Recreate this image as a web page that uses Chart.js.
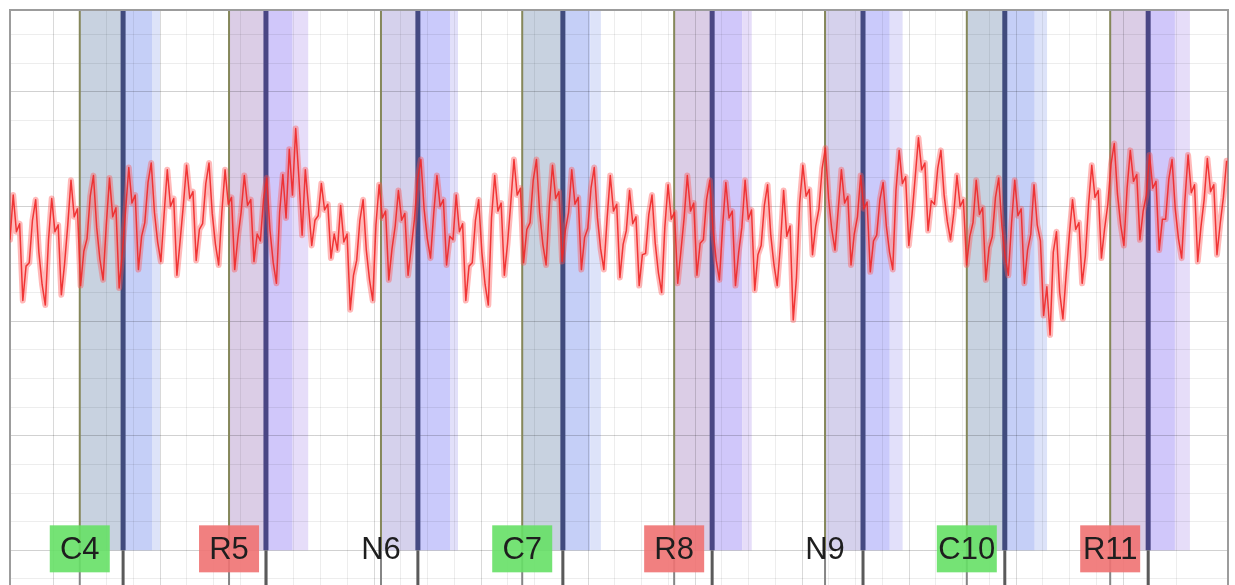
<!DOCTYPE html>
<html>
<head>
<meta charset="utf-8">
<script src="https://cdn.jsdelivr.net/npm/chart.js@4.4.1/dist/chart.umd.min.js"></script>
<style>
html, body { margin:0; padding:0; background:#fff; overflow:hidden; }
#wrap { position:relative; width:1235px; height:642px; }
</style>
</head>
<body>
<div id="wrap"><canvas id="trace"></canvas></div>
<script>
// sample timing (s)
const t0 = 0.1196;
const dt = 0.006;

// trace, one value per sample (uV)
const signal = [
  71,110,78,85,18,48, 51,88,106,60,32,14, 71,107,78,84,23,50, 84,123,91,98,31,61,
  72,109,127,82,54,36, 84,125,91,99,29,60, 96,134,103,110,45,74, 86,121,138,95,69,52,
  93,132,100,107,40,70, 101,136,107,113,53,80, 85,120,138,94,67,49, 95,132,102,108,45,73,
  95,127,101,106,52,76, 70,107,125,79,51,33, 95,128,90,150,110,168, 125,75,132,100,66,88,
  92,120,97,102,55,76, 62,101,69,76,10,40, 53,88,106,62,36,18, 84,119,90,96,36,63,
  83,114,88,94,40,64, 89,124,141,98,72,55, 94,127,100,106,49,74, 71,110,78,85,18,48,
  51,88,106,60,32,14, 90,127,96,103,40,68, 103,141,110,116,51,80, 86,123,141,95,67,49,
  100,136,107,113,52,79, 95,132,102,108,45,73, 81,116,134,90,63,45, 89,127,96,102,38,67,
  79,114,85,91,31,58, 59,93,110,68,42,25, 82,119,89,95,33,61, 90,127,96,103,40,68,
  71,106,123,80,53,36, 83,121,90,96,31,60, 82,123,89,97,27,58, 66,101,119,75,49,31,
  66,114,74,83,1,38, 103,136,109,115,58,83, 98,133,151,107,80,62, 97,132,103,109,49,76,
  91,127,98,104,43,70, 75,106,121,83,60,45, 114,149,120,126,66,93, 126,160,132,138,79,105,
  102,133,149,110,87,71, 94,127,100,106,49,74, 86,123,93,99,36,64, 74,108,125,83,57,40,
  85,123,92,98,33,62, 76,119,84,70,5,30, -12,60,78,25,2,40, 75,106,80,86,33,57,
  102,136,108,114,55,81, 102,137,155,111,84,66, 116,149,122,128,71,96, 110,145,116,122,62,89,
  89,124,141,98,72,55, 105,145,112,119,52,82, 106,142,113,119,58,85, 108,140
];

// trials
const trialLabels = ['C4', 'R5', 'N6', 'C7', 'R8', 'N9', 'C10', 'R11'];
const trialTypes  = ['C', 'R', 'N', 'C', 'R', 'N', 'C', 'R'];
const onsets      = [0.250, 0.529, 0.813, 1.077, 1.361, 1.643, 1.908, 2.176];
const responses   = [0.331, 0.598, 0.882, 1.153, 1.432, 1.714, 1.979, 2.247];
const tailStarts  = [0.385, 0.648, 0.942, 1.204, 1.488, 1.764, 2.035, 2.297];
const windowEnds  = [0.400, 0.677, 0.957, 1.224, 1.506, 1.788, 2.058, 2.325];
const bandFloor = -200;

// axes
const xMin = 0.1196, xMax = 2.3962, xStep = 0.05, xMajor = 0.2;
const yMin = -280, yMax = 271.5, yStep = 25, yMajor = 100;

const palette = {
  C: { a: '#c8d2e0', b: '#c5cff7', c: '#dde3f9', line: '#414b7d', box: '#66e066' },
  R: { a: '#dbcde6', b: '#d0c7fa', c: '#e6ddf9', line: '#4a4684', box: '#f07272' },
  N: { a: '#d5d1ec', b: '#cacafb', c: '#e2e0fa', line: '#454a82', box: null }
};

function isMultiple(v, m) {
  return Math.abs(Math.round(v / m) * m - v) < 1e-6;
}

const trialBands = {
  id: 'trialBands',
  beforeDraw(chart) {
    const { ctx, chartArea: area, scales: { x, y } } = chart;
    ctx.save();
    ctx.fillStyle = '#fff';
    ctx.fillRect(0, 0, chart.width, chart.height);
    const floor = y.getPixelForValue(bandFloor);
    onsets.forEach((t, i) => {
      const p = palette[trialTypes[i]];
      const x0 = x.getPixelForValue(t);
      const x1 = x.getPixelForValue(responses[i]);
      const x2 = x.getPixelForValue(tailStarts[i]);
      const x3 = x.getPixelForValue(windowEnds[i]);
      ctx.fillStyle = p.a; ctx.fillRect(x0, area.top, x1 - x0, floor - area.top);
      ctx.fillStyle = p.b; ctx.fillRect(x1, area.top, x2 - x1, floor - area.top);
      ctx.fillStyle = p.c; ctx.fillRect(x2, area.top, x3 - x2, floor - area.top);
    });
    ctx.restore();
  },
  beforeDatasetsDraw(chart) {
    const { ctx, chartArea: area, scales: { x, y } } = chart;
    const floor = y.getPixelForValue(bandFloor);
    ctx.save();
    onsets.forEach((t, i) => {
      const p = palette[trialTypes[i]];
      const x0 = x.getPixelForValue(t);
      const x1 = x.getPixelForValue(responses[i]);
      // onset line
      ctx.lineWidth = 2;
      ctx.strokeStyle = '#85875a';
      ctx.beginPath(); ctx.moveTo(x0, area.top); ctx.lineTo(x0, floor); ctx.stroke();
      ctx.strokeStyle = '#858585';
      ctx.beginPath(); ctx.moveTo(x0, floor); ctx.lineTo(x0, area.bottom); ctx.stroke();
      // response line
      ctx.lineWidth = 5;
      ctx.strokeStyle = p.line;
      ctx.beginPath(); ctx.moveTo(x1, area.top); ctx.lineTo(x1, floor); ctx.stroke();
      ctx.lineWidth = 3;
      ctx.strokeStyle = '#5a5a5a';
      ctx.beginPath(); ctx.moveTo(x1, floor); ctx.lineTo(x1, area.bottom); ctx.stroke();
    });
    // trial labels
    ctx.font = '31px "Liberation Sans", Arial, sans-serif';
    ctx.textAlign = 'center';
    ctx.textBaseline = 'middle';
    onsets.forEach((t, i) => {
      const p = palette[trialTypes[i]];
      const cx = x.getPixelForValue(t);
      const cy = floor - 2;
      if (p.box) {
        ctx.globalAlpha = 0.9;
        ctx.fillStyle = p.box;
        ctx.fillRect(cx - 30, cy - 23, 60, 47);
        ctx.globalAlpha = 1;
      }
      ctx.fillStyle = '#1e1e1e';
      ctx.fillText(trialLabels[i], cx, cy + 2);
    });
    // plot frame
    ctx.strokeStyle = '#9c9c9c';
    ctx.lineWidth = 2;
    ctx.strokeRect(area.left, area.top, area.right - area.left, area.bottom - area.top);
    ctx.restore();
  }
};

const points = signal.map((v, i) => ({ x: t0 + i * dt, y: v }));

new Chart(document.getElementById('trace'), {
  type: 'line',
  data: {
    datasets: [{
      // soft halo of the trace
      data: points,
      borderColor: 'rgba(255,80,80,0.4)',
      borderWidth: 6,
      borderJoinStyle: 'round',
      borderCapStyle: 'round',
      pointRadius: 0,
      tension: 0
    }, {
      data: points,
      borderColor: 'rgba(228,12,12,0.9)',
      borderWidth: 1.5,
      borderJoinStyle: 'round',
      pointRadius: 0,
      tension: 0
    }]
  },
  options: {
    responsive: true,
    maintainAspectRatio: false,
    animation: false,
    layout: { padding: { left: 10, top: 10, right: 7, bottom: 0 } },
    plugins: { legend: { display: false }, tooltip: { enabled: false } },
    scales: {
      x: {
        type: 'linear', min: xMin, max: xMax,
        ticks: { display: false, stepSize: xStep },
        border: { display: false },
        grid: {
          drawTicks: false,
          color: c => isMultiple(c.tick.value, xMajor) ? 'rgba(0,0,0,0.15)' : 'rgba(0,0,0,0.07)'
        }
      },
      y: {
        type: 'linear', min: yMin, max: yMax,
        ticks: { display: false, stepSize: yStep },
        border: { display: false },
        grid: {
          drawTicks: false,
          color: c => isMultiple(c.tick.value, yMajor) ? 'rgba(0,0,0,0.18)' : 'rgba(0,0,0,0.07)'
        }
      }
    }
  },
  plugins: [trialBands]
});
</script>
</body>
</html>
